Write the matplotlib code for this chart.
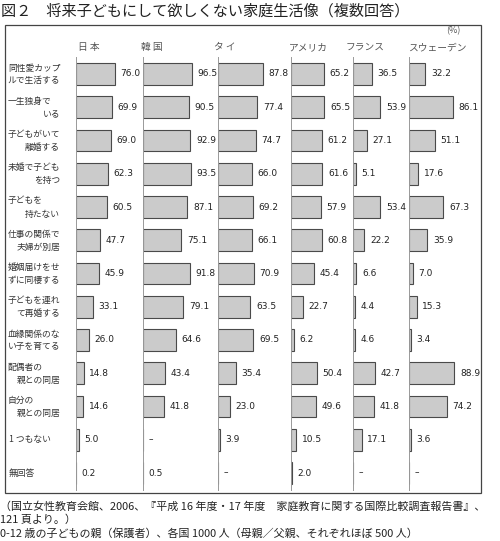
import matplotlib
matplotlib.use("Agg")
import matplotlib.pyplot as plt
from matplotlib.patches import Rectangle

plt.rcParams['font.family'] = ['Noto Sans CJK JP', 'DejaVu Sans']

# ---- データ ----
labels_top = ["同性愛カップ", "一生独身で", "子どもがいて", "未婚で子ども", "子どもを",
              "仕事の関係で", "婚姻届けをせ", "子どもを連れ", "血縁関係のな", "配偶者の",
              "自分の", "1 つもない", "無回答"]
labels_bottom = ["ルで生活する", "いる", "離婚する", "を持つ", "持たない",
                 "夫婦が別居", "ずに同棲する", "て再婚する", "い子を育てる", "親との同居",
                 "親との同居", "", ""]

countries = ["日 本", "韓 国", "タ イ", "アメリカ", "フランス", "スウェーデン"]

japan = [76.0, 69.9, 69.0, 62.3, 60.5, 47.7, 45.9, 33.1, 26.0, 14.8, 14.6, 5.0, 0.2]
korea = [96.5, 90.5, 92.9, 93.5, 87.1, 75.1, 91.8, 79.1, 64.6, 43.4, 41.8, None, 0.5]
thai = [87.8, 77.4, 74.7, 66.0, 69.2, 66.1, 70.9, 63.5, 69.5, 35.4, 23.0, 3.9, None]
usa = [65.2, 65.5, 61.2, 61.6, 57.9, 60.8, 45.4, 22.7, 6.2, 50.4, 49.6, 10.5, 2.0]
france = [36.5, 53.9, 27.1, 5.1, 53.4, 22.2, 6.6, 4.4, 4.6, 42.7, 41.8, 17.1, None]
sweden = [32.2, 86.1, 51.1, 17.6, 67.3, 35.9, 7.0, 15.3, 3.4, 88.9, 74.2, 3.6, None]
values = [japan, korea, thai, usa, france, sweden]

W, H = 500, 541
fig = plt.figure(figsize=(W / 100, H / 100), dpi=100)


def fx(x):
    return x / W


def fy(y):
    return 1 - y / H


# タイトル
fig.text(fx(1), fy(11), "図２　将来子どもにして欲しくない家庭生活像（複数回答）",
         fontsize=10.9, va='center', ha='left', color='#222222')

# 外枠
fig.patches.append(Rectangle((fx(5), fy(493)), fx(481) - fx(5), fy(25) - fy(493),
                             transform=fig.transFigure, fill=False,
                             edgecolor='#444444', linewidth=0.9))

# 各国のパネル
px_per_pct = 0.51
panel_x = [76, 143, 218, 291, 353, 409, 481]
header_x = [89, 152, 225, 308, 365, 437]
top_px, bot_px = 57, 490
row0, row_step = 74, 33.25
y_top = (top_px - row0) / row_step
y_bot = (bot_px - row0) / row_step

rows = list(range(len(labels_top)))
for k in range(len(countries)):
    left = panel_x[k]
    width = panel_x[k + 1] - left
    ax = fig.add_axes([fx(left), fy(bot_px), width / W, (bot_px - top_px) / H])
    ax.set_xlim(0, width / px_per_pct)
    ax.set_ylim(y_bot, y_top)
    for s in ['top', 'right', 'bottom']:
        ax.spines[s].set_visible(False)
    ax.spines['left'].set_color('#999999')
    ax.spines['left'].set_linewidth(0.7)
    ax.set_xticks([])
    ax.set_yticks([])
    ax.patch.set_alpha(0)

    vals = values[k]
    bar_vals = [v if v is not None else 0 for v in vals]
    ax.barh(rows, bar_vals, height=0.66, color='#cbcbcb',
            edgecolor='#4a4a4a', linewidth=0.8)
    for i, v in enumerate(vals):
        txt = "–" if v is None else f"{v:.1f}"
        xv = 0 if v is None else v
        ax.annotate(txt, (xv, i), xytext=(4, 0), textcoords='offset points',
                    va='center', ha='left', fontsize=6.5, color='#222222',
                    family=['DejaVu Sans'])

    fig.text(fx(header_x[k]), fy(47), countries[k], fontsize=7, ha='center',
             va='center', color='#555555')

fig.text(fx(453), fy(31), "(%)", fontsize=6.5, ha='center', va='center', color='#555555')

# 項目ラベル
for i in rows:
    yc = row0 + row_step * i
    if labels_bottom[i]:
        fig.text(fx(8), fy(yc - 6), labels_top[i], fontsize=6.3, ha='left',
                 va='center', color='#333333')
        fig.text(fx(60), fy(yc + 7), labels_bottom[i], fontsize=6.3, ha='right',
                 va='center', color='#333333')
    else:
        fig.text(fx(9), fy(yc), labels_top[i], fontsize=6.3, ha='left',
                 va='center', color='#333333')

# 出典
source_lines = [
    "（国立女性教育会館、2006、『平成 16 年度・17 年度　家庭教育に関する国際比較調査報告書』、",
    "121 頁より。）",
    "0-12 歳の子どもの親（保護者）、各国 1000 人（母親／父親、それぞれほぼ 500 人）",
]
for j, line in enumerate(source_lines):
    fig.text(fx(0), fy(506 + 14 * j), line, fontsize=7.9, ha='left', va='center',
             color='#222222')

fig.savefig("out.png", dpi=100)
